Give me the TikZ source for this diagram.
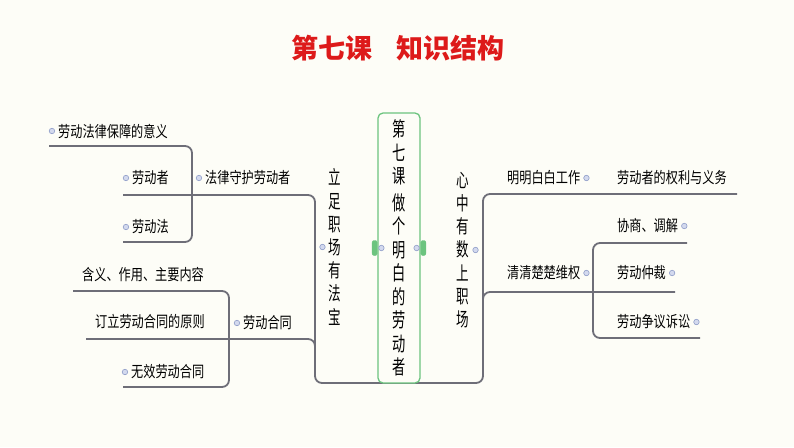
\documentclass[tikz,border=0pt]{standalone}
\usepackage{fontspec}
\newfontfamily\cjk{Noto Sans CJK SC}
\newfontfamily\cjkn[FakeStretch=0.78]{Noto Sans CJK SC}
\newfontfamily\cjkv[FakeStretch=0.66]{Noto Sans CJK SC}
\usetikzlibrary{positioning}
\definecolor{linegray}{HTML}{6E6E78}
\definecolor{titlered}{HTML}{DD1A1A}
\definecolor{boxgreen}{HTML}{6CC47F}
\definecolor{dotblue}{HTML}{8E9CC8}
\definecolor{dotfill}{HTML}{D3D9EE}
\definecolor{paper}{HTML}{FDFDF7}

\begin{document}
\begin{tikzpicture}[x=1pt,y=-1pt,
 lbl/.style={font=\cjkn\fontsize{15.6}{17}\selectfont,inner sep=0pt,anchor=west},
 vtext/.style={font=\cjkv\fontsize{19}{23.2}\selectfont,align=center,inner sep=0pt},
 branch/.style={draw=linegray,line width=1.8pt,rounded corners=7pt},
 dot/.style={circle,draw=dotblue,fill=dotfill,line width=.6pt,minimum size=5.5pt,inner sep=0pt},
 handle/.style={draw=boxgreen,fill=boxgreen,rounded corners=2pt,minimum width=5pt,minimum height=15pt,inner sep=0pt}]
\fill[paper] (0,0) rectangle (794,447);
\node[font=\cjk\bfseries\fontsize{27}{30}\selectfont,text=titlered] (title) at (398,48) {第七课\hspace{.9em}知识结构};
% corner points of the branch lines
\foreach \n/\x/\y in {zheL/123/195,trunkL/315/195,baseL/315/383,baseR/483/383,rtop/483/194,quanyiR/737/194,
 hetongL/86/339,hetongC/315/339,hetongD/315/355,
 yiyiL/49/146,yiyiC/192/146,falvC/192/242,falvL/123/242,
 hanyiL/73/291,hanyiC/229/291,wuxiaoC/229/387,wuxiaoL/123/387,
 weiquanD/483/305,weiquanC/483/292,zhongcaiR/675/292,
 xieshangR/687/243,xieshangC/593/243,susongC/593/338,susongR/700/338}
 \coordinate (\n) at (\x,\y);
\draw[branch] (zheL) -- (trunkL) -- (baseL) -- (baseR) -- (rtop) -- (quanyiR);
\draw[branch] (hetongL) -- (hetongC) -- (hetongD);
\draw[branch] (weiquanD) -- (weiquanC) -- (zhongcaiR);
\draw[branch] (yiyiL) -- (yiyiC) -- (falvC) -- (falvL);
\draw[branch] (hanyiL) -- (hanyiC) -- (wuxiaoC) -- (wuxiaoL);
\draw[branch] (xieshangR) -- (xieshangC) -- (susongC) -- (susongR);
% centre topic
\node[vtext,draw=boxgreen,fill=paper,line width=1.3pt,rounded corners=5pt,minimum width=42pt,minimum height=270pt,
 font=\cjkv\fontsize{20}{23.5}\selectfont] (zhu) at (399,248)
 {第\\七\\课\\[3pt]做\\个\\明\\白\\的\\劳\\动\\者};
\node[handle,left=0pt of zhu.west] (hl) {};
\node[handle,right=0pt of zhu.east] (hr) {};
\node[dot,right=1pt of hl] (dhl) {};
\node[dot,left=1pt of hr] (dhr) {};
\node[vtext] (lifa) at (335,247) {立\\足\\职\\场\\有\\法\\宝};
\node[vtext] (xinzhong) at (463,250) {心\\中\\有\\数\\上\\职\\场};
\node[dot,left=3pt of lifa] (dlifa) {};
\node[dot,right=3pt of xinzhong] (dxinzhong) {};
% left side
\node[lbl] (yiyi) at (58,131) {劳动法律保障的意义};
\node[lbl] (laodongzhe) at (132,178) {劳动者};
\node[lbl] (shouhu) at (205,178) {法律守护劳动者};
\node[lbl] (laodongfa) at (132,227) {劳动法};
\node[lbl] (hanyi) at (82,275) {含义、作用、主要内容};
\node[lbl] (yuanze) at (95,322) {订立劳动合同的原则};
\node[lbl] (hetong) at (243,323) {劳动合同};
\node[lbl] (wuxiao) at (131,372) {无效劳动合同};
% right side
\node[lbl] (mingbai) at (507,178) {明明白白工作};
\node[lbl] (quanyi) at (617,178) {劳动者的权利与义务};
\node[lbl] (xieshang) at (617,226) {协商、调解};
\node[lbl] (weiquan) at (507,273) {清清楚楚维权};
\node[lbl] (zhongcai) at (617,273) {劳动仲裁};
\node[lbl] (susong) at (617,322) {劳动争议诉讼};
\foreach \n in {yiyi,laodongzhe,shouhu,laodongfa,hetong,wuxiao}
 \node[dot,left=3pt of \n] (d\n) {};
\foreach \n in {mingbai,xieshang,weiquan,zhongcai,susong}
 \node[dot,right=3pt of \n] (d\n) {};
\end{tikzpicture}
\end{document}
